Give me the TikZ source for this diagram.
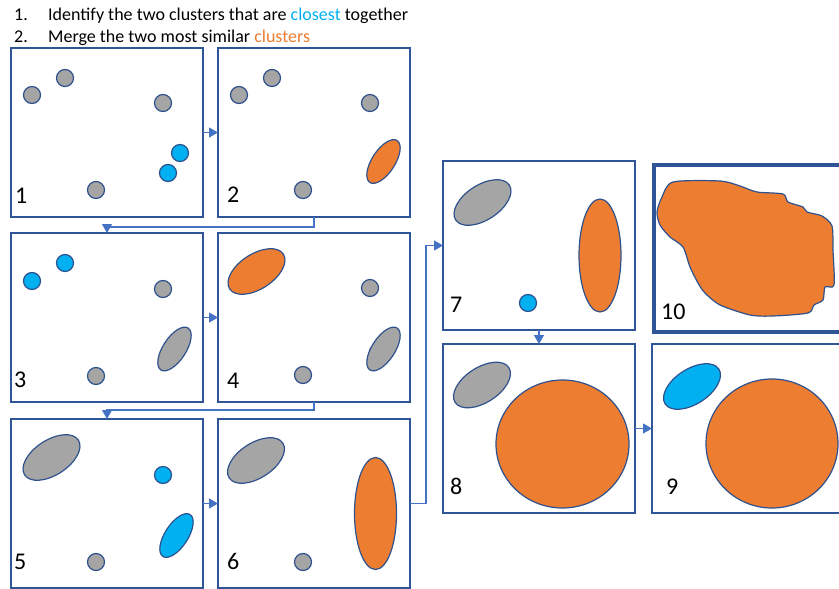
\documentclass[tikz,border=0pt]{standalone}
\usepackage{fontspec}
\setmainfont{Carlito}
\usepackage{xcolor}
\usetikzlibrary{arrows.meta}
\definecolor{framebl}{RGB}{47,85,151}
\definecolor{flowbl}{RGB}{68,114,196}
\definecolor{rimbl}{RGB}{47,82,143}
\definecolor{ptgray}{RGB}{165,165,165}
\definecolor{ptblue}{RGB}{0,176,240}
\definecolor{ptorange}{RGB}{237,125,49}
\newcommand{\stepno}[1]{\makebox[34pt][l]{#1}}

\begin{document}
\begin{tikzpicture}[x=1pt,y=-1pt,
        panel/.style={rectangle,draw=framebl,line width=1.1pt,minimum width=192pt,
          minimum height=169pt,inner sep=0pt,outer sep=0pt},
        bigpanel/.style={panel,line width=4pt,minimum height=167pt},
        flow/.style={draw=flowbl,line width=1.3pt,-{Triangle[length=9pt,width=10pt]}},
        num/.style={anchor=base west,inner sep=0pt,font=\fontsize{24}{28}\selectfont},
        task/.style={anchor=base west,inner sep=0pt,font=\fontsize{18}{22}\selectfont},
        grayblob/.style={draw=rimbl,line width=1.2pt,fill=ptgray},
        blueblob/.style={draw=rimbl,line width=1.2pt,fill=ptblue},
        orangeblob/.style={draw=rimbl,line width=1.2pt,fill=ptorange}]
        \clip (0,0) rectangle (839,589);
        % instructions
        \node[task] (t1) at (14,20) {\stepno{1.}Identify the two clusters that are \textcolor{ptblue}{closest} together};
        \node[task] (t2) at (14,42) {\stepno{2.}Merge the two most similar \textcolor{ptorange}{clusters}};
        % frames
        \node[panel] (p1) at (107,132.5) {};
        \node[panel] (p2) at (314,132.5) {};
        \node[panel] (p3) at (107,317.5) {};
        \node[panel] (p4) at (314,317.5) {};
        \node[panel] (p5) at (107,503.5) {};
        \node[panel] (p6) at (314,503.5) {};
        \node[panel] (p7) at (539,245.5) {};
        \node[panel] (p8) at (539,428.5) {};
        \node[panel] (p9) at (748,428.5) {};
        \node[bigpanel] (p10) at (750,248.5) {};
        % step 1
        \draw[grayblob] (32,95) circle (8.5pt);
        \draw[grayblob] (65,78) circle (8.5pt);
        \draw[grayblob] (163,103) circle (8.5pt);
        \draw[grayblob] (96,190) circle (8.5pt);
        \draw[blueblob] (180,153) circle (8.5pt);
        \draw[blueblob] (168,173) circle (8.5pt);
        % step 2
        \draw[grayblob] (239,95) circle (8.5pt);
        \draw[grayblob] (272,78) circle (8.5pt);
        \draw[grayblob] (370,103) circle (8.5pt);
        \draw[grayblob] (303,190) circle (8.5pt);
        \draw[orangeblob,shift={(383.5,161.5)},rotate=57] (0,0) ellipse (25pt and 11.5pt);
        % step 3
        \draw[blueblob] (32,281) circle (8.5pt);
        \draw[blueblob] (65,263) circle (8.5pt);
        \draw[grayblob] (163,289) circle (8.5pt);
        \draw[grayblob] (96,376) circle (8.5pt);
        \draw[grayblob,shift={(174.5,349)},rotate=57] (0,0) ellipse (25pt and 11.5pt);
        % step 4
        \draw[orangeblob,shift={(256.5,271.5)},rotate=33] (0,0) ellipse (32pt and 17.5pt);
        \draw[grayblob] (370,288) circle (8.5pt);
        \draw[grayblob] (303,375) circle (8.5pt);
        \draw[grayblob] (376.5,352) circle (7pt);
        \draw[grayblob,shift={(383.5,349)},rotate=57] (0,0) ellipse (25pt and 11.5pt);
        % step 5
        \draw[grayblob,shift={(51.5,457.5)},rotate=33] (0,0) ellipse (32pt and 17.5pt);
        \draw[blueblob] (163,475) circle (8.5pt);
        \draw[grayblob] (96,562) circle (8.5pt);
        \draw[blueblob,shift={(176.5,535.5)},rotate=57] (0,0) ellipse (25pt and 11.5pt);
        % step 6
        \draw[grayblob,shift={(256,460.5)},rotate=33] (0,0) ellipse (32pt and 17.5pt);
        \draw[grayblob] (303,562) circle (8.5pt);
        \draw[orangeblob] (375.5,513.5) ellipse (21pt and 56pt);
        % step 7
        \draw[grayblob,shift={(482.5,202.5)},rotate=33] (0,0) ellipse (32pt and 17.5pt);
        \draw[orangeblob] (600,255.5) ellipse (21pt and 56.5pt);
        \draw[blueblob] (528,303) circle (8.5pt);
        % step 8
        \draw[grayblob,shift={(482,385)},rotate=33] (0,0) ellipse (32pt and 17.5pt);
        \draw[orangeblob] (562.5,444) ellipse (66.5pt and 64pt);
        % step 9
        \draw[blueblob] (675.5,391) circle (7pt);
        \draw[blueblob,shift={(692,386.5)},rotate=33] (0,0) ellipse (32pt and 17.5pt);
        \draw[orangeblob] (772,443.5) ellipse (66pt and 64.5pt);
        % step 10
        \draw[orangeblob] plot[smooth cycle,tension=0.45] coordinates {
          (673,182) (720,181) (740,186) (757,192) (783,194) (788,202) (803,207)
          (807,212) (822,216) (832,226) (833,250) (834,285) (825,287) (823,300)
          (814,305) (808,313) (773,316) (750,315) (720,305) (705,293) (698,283)
          (690,267) (683,247) (670,237) (660,225) (657,212) (662,197)};
        % numbers
        \node[num] (n1) at (15,203) {1};
        \node[num] (n2) at (227,202) {2};
        \node[num] (n3) at (14,387) {3};
        \node[num] (n4) at (227,388) {4};
        \node[num] (n5) at (14,569) {5};
        \node[num] (n6) at (227,569) {6};
        \node[num] (n7) at (450,312) {7};
        \node[num] (n8) at (450,494) {8};
        \node[num] (n9) at (666,494) {9};
        \node[num] (n10) at (661,319) {10};
        % connectors
        \draw[flow] (p1.east) -- (p2.west);
        \draw[flow] (p2.south) -- ++(0,10) -| (p3.north);
        \draw[flow] (p3.east) -- (p4.west);
        \draw[flow] (p4.south) -- ++(0,8) -| (p5.north);
        \draw[flow] (p5.east) -- (p6.west);
        \draw[flow] (p6.east) -- ++(16,0) |- (p7.west);
        \draw[flow] (p7.south) -- (p8.north);
        \draw[flow] (p8.east) -- (p9.west);
      \end{tikzpicture}
\end{document}
